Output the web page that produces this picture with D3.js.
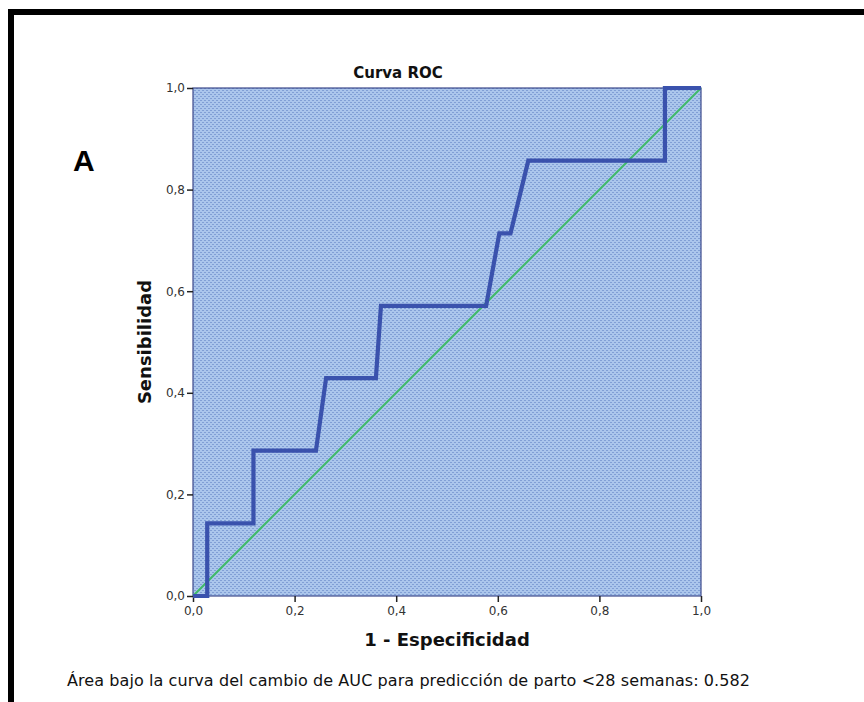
<!DOCTYPE html>
<html>
<head>
<meta charset="utf-8">
<script src="https://cdn.jsdelivr.net/npm/d3@7"></script>
<style>
  html, body { margin: 0; padding: 0; background: #fff; }
  svg { display: block; }
</style>
</head>
<body>
<svg id="chart" width="864" height="702"></svg>
<script>
// ROC curve coordinates (1 - specificity, sensitivity)
const fpr = [0, 0.028, 0.028, 0.119, 0.119, 0.242, 0.262, 0.360, 0.370, 0.577, 0.603, 0.625, 0.660, 0.929, 0.929, 1.0];
const tpr = [0, 0, 0.143, 0.143, 0.286, 0.286, 0.429, 0.429, 0.571, 0.571, 0.714, 0.714, 0.857, 0.857, 1.0, 1.0];
// Reference line (chance)
const refX = [0, 1];
const refY = [0, 1];
const tickValues = [0, 0.2, 0.4, 0.6, 0.8, 1.0];
const tickLabels = ["0,0", "0,2", "0,4", "0,6", "0,8", "1,0"];
const titleText = "Curva ROC";
const xTitle = "1 - Especificidad";
const yTitle = "Sensibilidad";
const panelLabel = "A";
const caption = "Área bajo la curva del cambio de AUC para predicción de parto <28 semanas: 0.582";

const svg = d3.select("#chart");
const plotLeft = 193, plotTop = 88, plotSize = 508;

// Frame around the panel
svg.append("rect")
  .attr("x", 11).attr("y", 12)
  .attr("width", 900).attr("height", 800)
  .attr("fill", "none").attr("stroke", "#000").attr("stroke-width", 6);

// Dotted fill pattern for the plot area
const defs = svg.append("defs");
const pat = defs.append("pattern")
  .attr("id", "dots").attr("patternUnits", "userSpaceOnUse")
  .attr("width", 4).attr("height", 4);
pat.append("rect").attr("width", 4).attr("height", 4).attr("fill", "#abc6ec");
pat.append("rect").attr("x", 0).attr("y", 0).attr("width", 2).attr("height", 1).attr("fill", "#819fd5");
pat.append("rect").attr("x", 2).attr("y", 2).attr("width", 2).attr("height", 1).attr("fill", "#819fd5");

const x = d3.scaleLinear().domain([0, 1]).range([plotLeft, plotLeft + plotSize]);
const y = d3.scaleLinear().domain([0, 1]).range([plotTop + plotSize, plotTop]);

svg.append("rect")
  .attr("x", x(0)).attr("y", y(1))
  .attr("width", x(1) - x(0)).attr("height", y(0) - y(1))
  .attr("fill", "url(#dots)")
  .attr("stroke", "#3d4a8c").attr("stroke-width", 1.2);

// Axes
const fmt = d => tickLabels[tickValues.indexOf(d)];
const xAxis = svg.append("g")
  .attr("transform", `translate(0,${plotTop + plotSize})`)
  .call(d3.axisBottom(x).tickValues(tickValues).tickFormat(fmt).tickSize(6).tickSizeOuter(0));
const yAxis = svg.append("g")
  .attr("transform", `translate(${plotLeft},0)`)
  .call(d3.axisLeft(y).tickValues(tickValues).tickFormat(fmt).tickSize(6).tickSizeOuter(0));
[xAxis, yAxis].forEach(g => {
  g.select(".domain").remove();
  g.selectAll(".tick line").attr("stroke", "#222").attr("stroke-width", 1.5);
  g.selectAll(".tick text")
    .attr("fill", "#333")
    .style("font-family", "'DejaVu Sans', sans-serif")
    .style("font-size", "12px");
});
xAxis.selectAll(".tick text").attr("dy", "0.85em");
yAxis.selectAll(".tick text").attr("x", -8);

// Chance diagonal
svg.append("line")
  .attr("x1", x(refX[0])).attr("y1", y(refY[0]))
  .attr("x2", x(refX[1])).attr("y2", y(refY[1]))
  .attr("stroke", "#3fba6a").attr("stroke-width", 2);

// ROC curve
const pts = fpr.map((v, i) => [v, tpr[i]]);
svg.append("path")
  .datum(pts)
  .attr("d", d3.line().x(d => x(d[0])).y(d => y(d[1])))
  .attr("fill", "none")
  .attr("stroke", "#3a52ad")
  .attr("stroke-width", 4.2)
  .attr("stroke-linejoin", "miter");

// Titles
svg.append("text")
  .attr("x", 398).attr("y", 78)
  .attr("text-anchor", "middle")
  .style("font-family", "'DejaVu Sans', sans-serif")
  .style("font-weight", "bold").style("font-size", "15px")
  .attr("fill", "#111")
  .text(titleText);

svg.append("text")
  .attr("x", x(0.5)).attr("y", 646)
  .attr("text-anchor", "middle")
  .style("font-family", "'DejaVu Sans', sans-serif")
  .style("font-weight", "bold").style("font-size", "18px")
  .attr("fill", "#111")
  .text(xTitle);

svg.append("text")
  .attr("transform", `translate(151,${y(0.5)}) rotate(-90)`)
  .attr("text-anchor", "middle")
  .style("font-family", "'DejaVu Sans', sans-serif")
  .style("font-weight", "bold").style("font-size", "18px")
  .attr("fill", "#111")
  .text(yTitle);

svg.append("text")
  .attr("x", 73).attr("y", 171)
  .style("font-family", "'Liberation Sans', Arial, sans-serif")
  .style("font-weight", "bold").style("font-size", "30px")
  .attr("fill", "#000")
  .text(panelLabel);

svg.append("text")
  .attr("x", 67).attr("y", 686)
  .attr("textLength", 683)
  .attr("lengthAdjust", "spacing")
  .style("font-family", "'DejaVu Sans', sans-serif")
  .style("font-size", "16px")
  .attr("fill", "#111")
  .text(caption);
</script>
</body>
</html>
